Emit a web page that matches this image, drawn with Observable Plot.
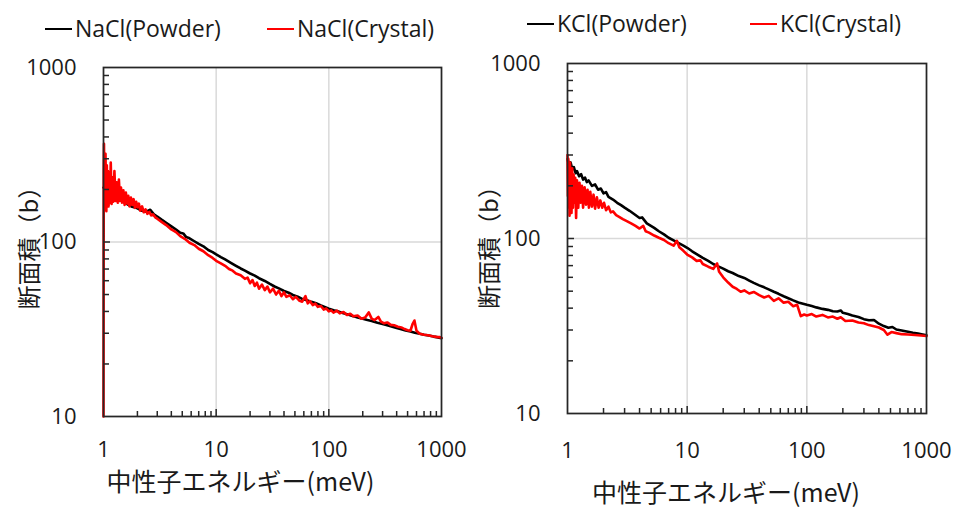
<!DOCTYPE html>
<html>
<head>
<meta charset="utf-8">
<script src="https://cdn.jsdelivr.net/npm/d3@7"></script>
<script src="https://cdn.jsdelivr.net/npm/@observablehq/plot@0.6"></script>
<style>
  body { margin: 0; background: #fff; width: 955px; height: 507px; overflow: hidden; position: relative; font-family: "Open Sans", sans-serif; }
  .panel { position: absolute; top: 0; height: 507px; }
  .legend { position: absolute; top: 0; left: 0; right: 0; height: 45px; }
  .key { position: absolute; font-size: 23px; line-height: 23px; color: #1a1a1a; white-space: nowrap; }
  .swatch { position: absolute; width: 27px; height: 2px; }
  .chart { position: absolute; top: 45px; left: 0; }
</style>
</head>
<body>
<script>
// Total cross section (b) against neutron energy (meV), [energy, cross section]
const naclPowder = [
  [1,205],[1.1,195],[1.2,189],[1.3,181],[1.4,175],[1.5,170],[1.65,164],[1.8,159],[2,156],[2.2,151],
  [2.4,149],[2.6,153],[2.8,144],[3,140],[3.3,134],[3.6,129],[4,123],[4.4,118],[4.8,113],[5.1,112],
  [5.4,107],[5.8,105],[6.4,101],[7,97.5],[7.7,94.5],[8.5,90],[9.3,87.5],[10,85],[11,82],[12,79.5],
  [13.5,76],[15,73],[16.5,70.5],[18,68.5],[20,66],[22,64.2],[24,62],[27,59.8],[30,57.5],[33,55.6],
  [36,54.2],[40,52.4],[44,51.2],[48,49.7],[53,48.6],[58,47.2],[64,46.4],[70,45.4],[77,44.6],[85,43.3],
  [93,42.3],[100,41.5],[110,40.6],[120,40.1],[135,39],[150,38.3],[165,37.6],[180,36.9],[200,36.3],[220,35.7],
  [240,35.3],[270,34.5],[300,33.9],[330,33.3],[360,32.8],[400,32.1],[440,31.6],[480,31.1],[530,30.7],[580,30.2],
  [640,29.8],[700,29.4],[770,29.1],[850,28.7],[930,28.4],[1000,28.1]
];
const naclCrystal = [
  [1,10],[1.005,250],[1.01,365],[1.018,185],[1.026,300],[1.034,160],[1.042,320],[1.05,200],[1.06,150],[1.07,275],
  [1.08,175],[1.095,255],[1.11,160],[1.125,240],[1.14,168],[1.16,285],[1.18,165],[1.2,235],[1.22,170],[1.25,255],
  [1.28,172],[1.31,220],[1.34,168],[1.37,228],[1.4,172],[1.43,205],[1.46,168],[1.5,198],[1.54,163],[1.58,192],
  [1.62,166],[1.66,184],[1.7,160],[1.75,180],[1.8,163],[1.85,176],[1.9,157],[1.95,170],[2,158],[2.06,166],
  [2.12,151],[2.2,160],[2.28,148],[2.36,154],[2.45,145],[2.55,149],[2.65,142],[2.75,144],[2.9,138],[3,136],
  [3.3,130],[3.6,125],[4,118],[4.4,114],[4.8,108],[5.3,104],[5.8,99],[6.4,96],[7,91.5],[7.7,88.5],
  [8.5,84],[9.3,81],[10,78],[11,75.5],[12,73],[13,70],[14,68.5],[15,66],[16.5,64.5],[18,61.5],
  [19,62.5],[20,58],[21,60.5],[22,56],[23,58.5],[24,54],[25.5,57],[27,53],[28.5,55.5],[30,51.5],
  [32,54],[34,50],[36,52.5],[38,49],[40,51.5],[42,48.5],[45,49.5],[48,47],[51,48.5],[55,46],
  [58,45.5],[62,49],[65,44.5],[68,45.8],[72,43.5],[76,44.3],[80,42.5],[85,43],[90,41],[95,41.6],
  [100,40],[105,40.6],[110,39.4],[118,40.4],[125,39],[135,39.7],[145,38.2],[155,38.8],[165,37.5],[180,37.9],
  [195,36.3],[210,36.9],[226,39.5],[240,36.4],[255,35.7],[275,37.2],[290,35],[310,34.2],[330,34.6],[355,33.5],
  [380,33.3],[410,32.7],[440,32.4],[470,31.7],[500,31.2],[530,31],[555,34],[575,35.5],[600,31],[640,29.8],
  [700,29.4],[760,29.2],[830,28.8],[900,28.6],[960,28.5],[1000,28.3]
];
const kclPowder = [
  [1,285],[1.03,262],[1.06,272],[1.1,248],[1.13,256],[1.17,236],[1.2,243],[1.25,227],[1.3,233],[1.35,217],
  [1.4,223],[1.45,210],[1.5,215],[1.6,200],[1.7,204],[1.8,190],[1.9,193],[2,181],[2.1,184],[2.2,173],
  [2.4,167],[2.6,160],[2.8,155],[3,150],[3.3,144],[3.6,138],[4,131],[4.2,132],[4.6,122],[5.3,115],
  [5.8,110],[6.4,105.5],[7,101],[7.7,97.5],[8.5,94],[9.3,91],[10,88.5],[11,84.5],[12,81.5],[13.5,77.5],
  [15,74.5],[16.5,71.5],[18,69.5],[20,67.3],[22,65],[24,63.5],[27,61],[30,59.5],[33,57.5],[36,55.8],
  [40,54],[44,52.6],[48,51.2],[53,49.6],[58,48.3],[64,46.8],[70,45.6],[77,44.3],[85,43.1],[93,42.4],
  [100,41.8],[110,41.1],[120,40.4],[135,39.6],[150,39.1],[165,38.4],[180,38.3],[192,38.8],[200,37.6],[220,37],
  [240,36.3],[270,35.6],[300,34.6],[330,34.1],[364,34.2],[400,32.6],[440,31.6],[480,30.9],[519,31.2],[560,30.2],
  [620,29.8],[700,29.3],[770,28.9],[850,28.6],[930,28.3],[1000,28]
];
const kclCrystal = [
  [1,300],[1.008,175],[1.016,285],[1.024,150],[1.032,262],[1.04,135],[1.05,272],[1.06,165],[1.07,242],[1.08,140],
  [1.095,252],[1.11,150],[1.125,232],[1.14,160],[1.16,222],[1.18,131],[1.2,215],[1.23,150],[1.26,208],[1.29,160],
  [1.32,200],[1.35,150],[1.39,196],[1.43,156],[1.47,190],[1.51,150],[1.55,185],[1.6,152],[1.65,178],[1.7,148],
  [1.76,172],[1.82,150],[1.88,165],[1.95,150],[2.02,160],[2.1,145],[2.2,152],[2.3,141],[2.4,143],[2.55,136],
  [2.7,133],[2.9,129],[3.1,126],[3.4,122],[3.7,118],[4,114],[4.3,118],[4.5,110],[4.8,108],[5.3,104],
  [5.8,101],[6.4,98],[7,94],[7.7,91],[8.2,97],[8.6,89],[9.3,85],[10,81],[11,78],[12,74.5],
  [12.9,75],[13.5,71.5],[15,69],[16.5,67],[17.8,72],[18.5,64.5],[20,60],[22,56],[24,53],[26,51.5],
  [28,49.6],[30,50.5],[33,48.5],[36,49.5],[40,47.5],[44,46],[48,47],[53,44],[58,45.5],[64,43],
  [70,43.5],[77,41],[83,41.8],[89,36],[95,36.8],[100,36.3],[110,37],[120,35.8],[135,36.6],[150,35.4],
  [165,35.8],[180,34.8],[192,35.5],[210,33.8],[240,34],[270,33.1],[300,32.8],[330,32],[364,31.5],[400,31],
  [440,30],[472,28.2],[510,29.2],[560,28.8],[620,28.4],[700,28.3],[800,28.1],[900,27.9],[1000,27.7]
];

const xTickValues = [1, 10, 100, 1000];
const yTickValues = [10, 100, 1000];
const xGrid = [10, 100];
const yGrid = [100];
const xMinor = [2,3,4,5,6,7,8,9,20,30,40,50,60,70,80,90,200,300,400,500,600,700,800,900];
const xMajorInner = [10, 100];
const yMinor = [20,30,40,50,60,70,80,90,200,300,400,500,600,700,800,900];
const yMajorInner = [100];

const xTitle = "中性子エネルギー(meV)";
const yTitle = "断面積（b）";
const powderColor = "#000000";
const crystalColor = "#ff0000";

const panels = [
  {
    left: 0, width: 477,
    margins: {top: 22, right: 36, bottom: 91, left: 103},
    xPad: 25, yPad: 27,
    xTitleOffset: {dx: -32, dy: 66}, yTitleOffset: {dx: -73, dy: 0},
    legend: [
      {label: "NaCl(Powder)", color: powderColor, line: 45, text: 75, y: 29},
      {label: "NaCl(Crystal)", color: crystalColor, line: 267, text: 297, y: 29}
    ],
    powder: naclPowder, crystal: naclCrystal
  },
  {
    left: 477, width: 478,
    margins: {top: 18, right: 29, bottom: 94, left: 90},
    xPad: 29, yPad: 27,
    xTitleOffset: {dx: -21, dy: 80}, yTitleOffset: {dx: -77, dy: 3},
    legend: [
      {label: "KCl(Powder)", color: powderColor, line: 50, text: 80, y: 24},
      {label: "KCl(Crystal)", color: crystalColor, line: 273, text: 303, y: 24}
    ],
    powder: kclPowder, crystal: kclCrystal
  }
];

const axisColor = "#262626";
const gridColor = "#d9d9d9";
const cjkFont = "'Noto Sans CJK JP', sans-serif";

for (const p of panels) {
  const div = document.createElement("div");
  div.className = "panel";
  div.style.left = p.left + "px";
  div.style.width = p.width + "px";
  document.body.appendChild(div);

  // legend above the chart
  const legend = document.createElement("div");
  legend.className = "legend";
  for (const item of p.legend) {
    const sw = document.createElement("div");
    sw.className = "swatch";
    sw.style.left = item.line + "px";
    sw.style.top = (item.y - 1) + "px";
    sw.style.background = item.color;
    legend.appendChild(sw);
    const t = document.createElement("div");
    t.className = "key";
    t.style.left = item.text + "px";
    t.style.top = (item.y - 12) + "px";
    t.textContent = item.label;
    legend.appendChild(t);
  }
  div.appendChild(legend);

  const height = 462;
  const innerW = p.width - p.margins.left - p.margins.right;
  const innerH = height - p.margins.top - p.margins.bottom;
  const fmt = d => String(d);

  const chart = Plot.plot({
    width: p.width,
    height,
    marginTop: p.margins.top,
    marginRight: p.margins.right,
    marginBottom: p.margins.bottom,
    marginLeft: p.margins.left,
    x: {type: "log", domain: [1, 1000]},
    y: {type: "log", domain: [10, 1000]},
    style: {fontFamily: "'Open Sans', sans-serif", fontSize: "22px", color: "#1a1a1a", background: "#fff", overflow: "visible"},
    marks: [
      Plot.ruleX(xGrid, {stroke: gridColor, strokeWidth: 1.5}),
      Plot.ruleY(yGrid, {stroke: gridColor, strokeWidth: 1.5}),
      Plot.line(p.powder, {x: d => d[0], y: d => d[1], stroke: powderColor, strokeWidth: 2.6}),
      Plot.line(p.crystal, {x: d => d[0], y: d => d[1], stroke: crystalColor, strokeWidth: 2.6}),
      Plot.tickX(xMinor, {x: d => d, insetTop: innerH - 5, stroke: axisColor, strokeWidth: 1.5}),
      Plot.tickX(xMajorInner, {x: d => d, insetTop: innerH - 7, stroke: axisColor, strokeWidth: 1.5}),
      Plot.tickY(yMinor, {y: d => d, insetRight: innerW - 6, stroke: axisColor, strokeWidth: 1.5}),
      Plot.tickY(yMajorInner, {y: d => d, insetRight: innerW - 7, stroke: axisColor, strokeWidth: 1.5}),
      Plot.frame({stroke: axisColor, strokeWidth: 1.75}),
      Plot.axisX({ticks: xTickValues, tickSize: 0, tickPadding: p.xPad, tickFormat: fmt, label: null, fontSize: 22}),
      Plot.axisY({ticks: yTickValues, tickSize: 0, tickPadding: p.yPad, tickFormat: fmt, label: null, fontSize: 22}),
      Plot.text([xTitle], {text: d => d, frameAnchor: "bottom", textAnchor: "middle", lineAnchor: "middle", dx: p.xTitleOffset.dx, dy: p.xTitleOffset.dy, fontFamily: cjkFont, fontSize: 25, fill: "#1a1a1a"}),
      Plot.text([yTitle], {text: d => d, frameAnchor: "left", textAnchor: "middle", lineAnchor: "middle", rotate: -90, dx: p.yTitleOffset.dx, dy: p.yTitleOffset.dy, fontFamily: cjkFont, fontSize: 24, fill: "#1a1a1a"})
    ]
  });
  chart.classList.add("chart");
  chart.style.position = "absolute";
  chart.style.top = "45px";
  chart.style.left = "0px";
  div.appendChild(chart);
}
</script>
</body>
</html>
